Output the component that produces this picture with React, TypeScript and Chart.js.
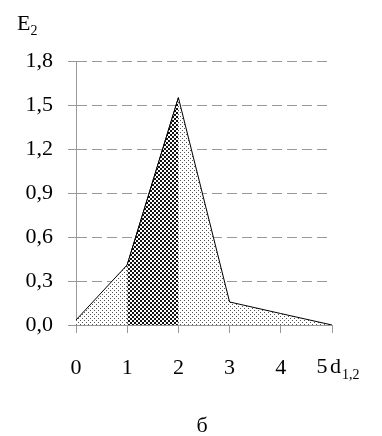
import React, { useEffect, useRef } from "react";
import { Chart, registerables } from "chart.js";

Chart.register(...registerables);

const xValues = [0, 1, 2, 3, 4, 5];
const yValues = [0.034, 0.41, 1.55, 0.157, 0.078, 0.0];
const highlightX = [1, 2];
const highlightY = [0.41, 1.55];
const yTicks = [0, 0.3, 0.6, 0.9, 1.2, 1.5, 1.8];
const yAxisTitle = "E";
const yAxisSub = "2";
const xAxisTitle = "d";
const xAxisSub = "1,2";
const caption = "б";

const FONT = '"Liberation Serif", "Times New Roman", serif';

function makeDots(): CanvasPattern | string {
  const c = document.createElement("canvas");
  c.width = 4;
  c.height = 4;
  const g = c.getContext("2d");
  if (!g) return "#ddd";
  g.fillStyle = "#ffffff";
  g.fillRect(0, 0, 4, 4);
  g.fillStyle = "#555555";
  g.fillRect(0, 0, 1, 1);
  g.fillRect(2, 2, 1, 1);
  return g.createPattern(c, "repeat") as CanvasPattern;
}

function makeChecker(): CanvasPattern | string {
  const c = document.createElement("canvas");
  c.width = 4;
  c.height = 4;
  const g = c.getContext("2d");
  if (!g) return "#444";
  g.fillStyle = "#ffffff";
  g.fillRect(0, 0, 4, 4);
  g.fillStyle = "#111111";
  g.fillRect(0, 0, 2, 2);
  g.fillRect(2, 2, 2, 2);
  return g.createPattern(c, "repeat") as CanvasPattern;
}

export default function App() {
  const ref = useRef<HTMLCanvasElement | null>(null);

  useEffect(() => {
    if (!ref.current) return;
    const textPlugin = {
      id: "texts",
      afterDraw(chart: any) {
        const ctx = chart.ctx;
        const xs = chart.scales.x;
        ctx.save();
        ctx.fillStyle = "#000";
        ctx.textBaseline = "alphabetic";
        ctx.textAlign = "left";
        ctx.font = `22px ${FONT}`;
        ctx.fillText(yAxisTitle, 17, 30);
        const ew = ctx.measureText(yAxisTitle).width;
        ctx.font = `14px ${FONT}`;
        ctx.fillText(yAxisSub, 17 + ew, 35);
        const x5 = xs.getPixelForValue(xValues[xValues.length - 1]);
        ctx.font = `22px ${FONT}`;
        ctx.textAlign = "center";
        ctx.fillText(String(xValues[xValues.length - 1]), x5 - 10, 373);
        ctx.textAlign = "left";
        ctx.fillText(xAxisTitle, 330, 373);
        const dw = ctx.measureText(xAxisTitle).width;
        ctx.font = `14px ${FONT}`;
        ctx.fillText(xAxisSub, 330 + dw + 1, 379);
        ctx.font = `22px ${FONT}`;
        ctx.textAlign = "center";
        ctx.fillText(caption, 202, 432);
        ctx.restore();
      },
    };

    const chart = new Chart(ref.current, {
      type: "line",
      data: {
        datasets: [
          {
            data: highlightX.map((x, i) => ({ x, y: highlightY[i] })),
            backgroundColor: makeChecker() as any,
            borderColor: "#000",
            borderWidth: 1,
            pointRadius: 0,
            fill: "origin",
            order: 0,
            tension: 0,
          },
          {
            data: xValues.map((x, i) => ({ x, y: yValues[i] })),
            backgroundColor: makeDots() as any,
            borderColor: "#000",
            borderWidth: 1,
            pointRadius: 0,
            fill: "origin",
            order: 1,
            tension: 0,
          },
        ],
      },
      options: {
        responsive: false,
        animation: false,
        events: [],
        layout: { padding: { left: 0, right: 50, top: 61, bottom: 0 } },
        plugins: { legend: { display: false }, tooltip: { enabled: false } },
        scales: {
          x: {
            type: "linear",
            min: 0,
            max: 5,
            afterFit(scale: any) {
              scale.height = 111;
            },
            ticks: {
              stepSize: 1,
              color: "#000",
              font: { family: FONT, size: 22 },
              padding: 22,
              maxRotation: 0,
              callback: (v: any) => (Number(v) === 5 ? "" : String(v)),
            },
            grid: {
              drawOnChartArea: false,
              drawTicks: true,
              tickLength: 8,
              color: "#999",
            },
            border: { color: "#999", width: 1 },
          },
          y: {
            type: "linear",
            min: 0,
            max: 1.8,
            afterFit(scale: any) {
              scale.width = 76;
            },
            afterBuildTicks(scale: any) {
              scale.ticks = yTicks.map((v) => ({ value: v }));
            },
            ticks: {
              color: "#000",
              font: { family: FONT, size: 22 },
              padding: 15,
              callback: (v: any) => Number(v).toFixed(1).replace(".", ","),
            },
            grid: {
              drawOnChartArea: true,
              drawTicks: true,
              tickLength: 8,
              color: "#999",
              tickBorderDash: [],
            } as any,
            border: { color: "#999", width: 1, dash: [10, 5] } as any,
          },
        },
      },
      plugins: [textPlugin],
    });
    return () => chart.destroy();
  }, []);

  return (
    <div style={{ position: "fixed", left: 0, top: 0, width: 382, height: 436, background: "#fff" }}>
      <canvas ref={ref} width={382} height={436} style={{ display: "block" }} />
    </div>
  );
}
